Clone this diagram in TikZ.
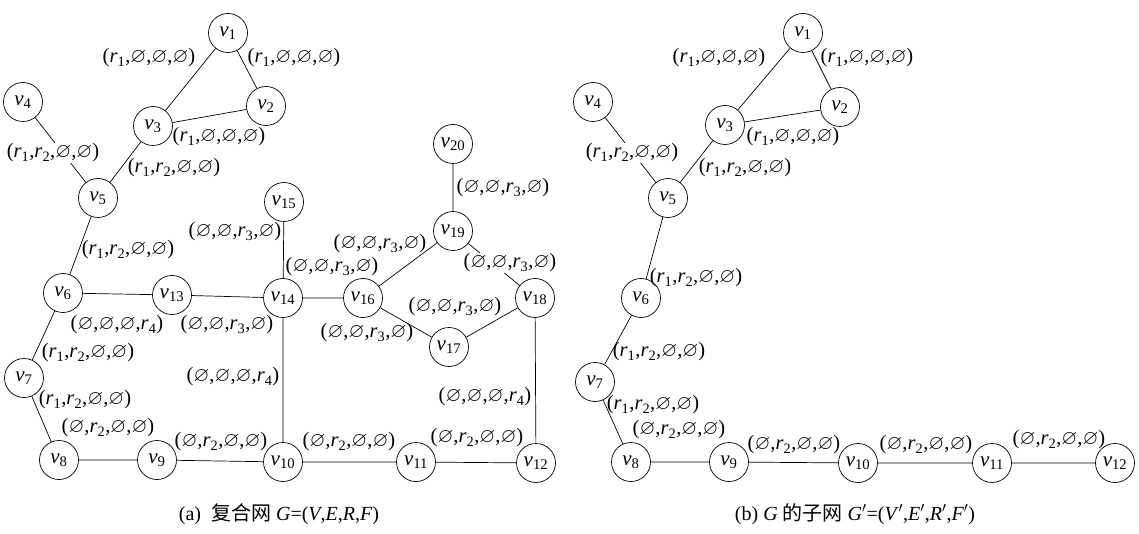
\documentclass[tikz,border=0pt]{standalone}
\usepackage{amssymb}
\usepackage{fontspec}
\setmainfont{Liberation Serif}
\newfontfamily\cjk{Noto Sans CJK SC}
\newcommand{\E}{\ensuremath{\varnothing}}
\newcommand{\R}[1]{\textit{r}\textsubscript{#1}}
\newcommand{\V}[1]{\textit{v}\textsubscript{#1}}
\tikzset{
  vtx/.style={draw, circle, line width=0.7pt, minimum size=39pt, inner sep=0pt, font=\fontsize{21}{21}\selectfont},
  lab/.style={inner sep=0.5pt, font=\fontsize{20.5}{21}\selectfont},
  wlab/.style={lab, fill=white},
  captxt/.style={inner sep=0pt, font=\fontsize{20}{20}\selectfont},
  edge/.style={line width=0.7pt}
}
\begin{document}
\begin{tikzpicture}[x=1pt,y=-1pt]
\useasboundingbox (0,0) rectangle (1139,534);
% ---------- (a) ----------
\node[vtx] (a1) at (228,33) {\V{1}};
\node[vtx] (a2) at (266,106) {\V{2}};
\node[vtx] (a3) at (153,126) {\V{3}};
\node[vtx] (a4) at (23,102) {\V{4}};
\node[vtx] (a5) at (98,198) {\V{5}};
\node[vtx] (a6) at (63,293) {\V{6}};
\node[vtx] (a7) at (24,378) {\V{7}};
\node[vtx] (a8) at (59,460) {\V{8}};
\node[vtx] (a9) at (157,460) {\V{9}};
\node[vtx] (a10) at (283,462) {\V{10}};
\node[vtx] (a11) at (416,462) {\V{11}};
\node[vtx] (a12) at (536,463) {\V{12}};
\node[vtx] (a13) at (172,295) {\V{13}};
\node[vtx] (a14) at (283,298) {\V{14}};
\node[vtx] (a15) at (284,202) {\V{15}};
\node[vtx] (a16) at (363,298) {\V{16}};
\node[vtx] (a17) at (449,347) {\V{17}};
\node[vtx] (a18) at (535,298) {\V{18}};
\node[vtx] (a19) at (453,231) {\V{19}};
\node[vtx] (a20) at (453,144) {\V{20}};
\draw[edge] (a1)--(a3) (a1)--(a2) (a3)--(a2) (a4)--(a5) (a3)--(a5) (a5)--(a6)
  (a6)--(a13) (a13)--(a14) (a14)--(a15) (a14)--(a16) (a14)--(a10)
  (a16)--(a19) (a19)--(a20) (a19)--(a18) (a16)--(a17) (a17)--(a18) (a18)--(a12)
  (a6)--(a7) (a7)--(a8) (a8)--(a9) (a9)--(a10) (a10)--(a11) (a11)--(a12);
\node[lab] (la1) at (149,58) {(\R{1},\E,\E,\E)};
\node[lab] (la2) at (294,58) {(\R{1},\E,\E,\E)};
\node[lab] (la3) at (219,137) {(\R{1},\E,\E,\E)};
\node[wlab] (la4) at (53,153) {(\R{1},\R{2},\E,\E)};
\node[lab] (la5) at (174,168) {(\R{1},\R{2},\E,\E)};
\node[lab] (la6) at (235,232) {(\E,\E,\R{3},\E)};
\node[lab] (la7) at (128,250) {(\R{1},\R{2},\E,\E)};
\node[lab] (la8) at (332,267) {(\E,\E,\R{3},\E)};
\node[lab] (la9) at (380,244) {(\E,\E,\R{3},\E)};
\node[lab] (la10) at (503,188) {(\E,\E,\R{3},\E)};
\node[wlab] (la11) at (510,263) {(\E,\E,\R{3},\E)};
\node[lab] (la12) at (117,325) {(\E,\E,\E,\R{4})};
\node[lab] (la13) at (227,325) {(\E,\E,\R{3},\E)};
\node[lab] (la14) at (367,333) {(\E,\E,\R{3},\E)};
\node[lab] (la15) at (455,307) {(\E,\E,\R{3},\E)};
\node[lab] (la16) at (88,353) {(\R{1},\R{2},\E,\E)};
\node[lab] (la17) at (233,377) {(\E,\E,\E,\R{4})};
\node[lab] (la18) at (485,397) {(\E,\E,\E,\R{4})};
\node[lab] (la19) at (85,400) {(\R{1},\R{2},\E,\E)};
\node[lab] (la20) at (108,428) {(\E,\R{2},\E,\E)};
\node[lab] (la21) at (221,442) {(\E,\R{2},\E,\E)};
\node[lab] (la22) at (349,442) {(\E,\R{2},\E,\E)};
\node[lab] (la23) at (477,438) {(\E,\R{2},\E,\E)};
\node[captxt] (capa) at (279,514) {(a)\ \ {\cjk 复合网} \textit{G}=(\textit{V},\textit{E},\textit{R},\textit{F})};
% ---------- (b) ----------
\node[vtx] (b1) at (803,33) {\V{1}};
\node[vtx] (b2) at (840,107) {\V{2}};
\node[vtx] (b3) at (725,125) {\V{3}};
\node[vtx] (b4) at (593,102) {\V{4}};
\node[vtx] (b5) at (668,198) {\V{5}};
\node[vtx] (b6) at (641,298) {\V{6}};
\node[vtx] (b7) at (595,382) {\V{7}};
\node[vtx] (b8) at (631,462) {\V{8}};
\node[vtx] (b9) at (729,462) {\V{9}};
\node[vtx] (b10) at (858,463) {\V{10}};
\node[vtx] (b11) at (992,463) {\V{11}};
\node[vtx] (b12) at (1115,463) {\V{12}};
\draw[edge] (b1)--(b3) (b1)--(b2) (b3)--(b2) (b4)--(b5) (b3)--(b5) (b5)--(b6)
  (b6)--(b7) (b7)--(b8) (b8)--(b9) (b9)--(b10) (b10)--(b11) (b11)--(b12);
\node[lab] (lb1) at (719,58) {(\R{1},\E,\E,\E)};
\node[lab] (lb2) at (867,58) {(\R{1},\E,\E,\E)};
\node[lab] (lb3) at (793,137) {(\R{1},\E,\E,\E)};
\node[wlab] (lb4) at (632,153) {(\R{1},\R{2},\E,\E)};
\node[lab] (lb5) at (745,168) {(\R{1},\R{2},\E,\E)};
\node[lab] (lb6) at (696,278) {(\R{1},\R{2},\E,\E)};
\node[lab] (lb7) at (659,352) {(\R{1},\R{2},\E,\E)};
\node[lab] (lb8) at (653,405) {(\R{1},\R{2},\E,\E)};
\node[lab] (lb9) at (679,430) {(\E,\R{2},\E,\E)};
\node[lab] (lb10) at (794,445) {(\E,\R{2},\E,\E)};
\node[lab] (lb11) at (926,445) {(\E,\R{2},\E,\E)};
\node[lab] (lb12) at (1059,440) {(\E,\R{2},\E,\E)};
\node[captxt] (capb) at (855,514) {(b) \textit{G} {\cjk 的子网} \textit{G}$'$=(\textit{V}$'$,\textit{E}$'$,\textit{R}$'$,\textit{F}$'$)};
\end{tikzpicture}
\end{document}
